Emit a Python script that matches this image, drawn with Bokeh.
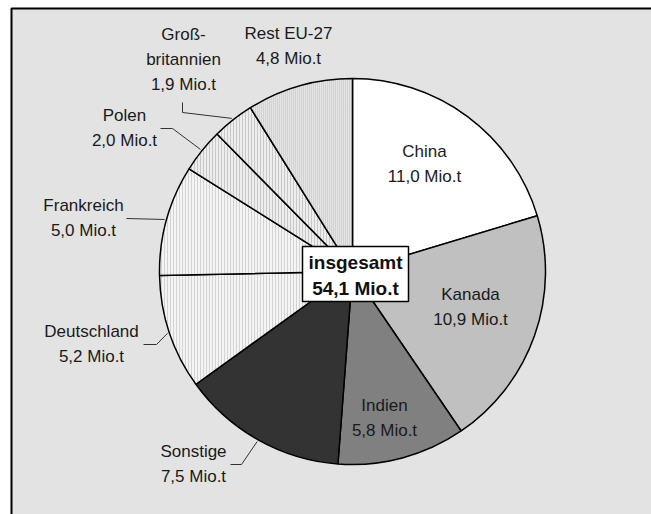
import math
from bokeh.plotting import figure
from bokeh.models import Range1d
from bokeh.core.properties import value
from bokeh.embed import file_html
from bokeh.resources import INLINE

# ---- data ----
names = ["China", "Kanada", "Indien", "Sonstige", "Deutschland", "Frankreich", "Polen", "Groß-\nbritannien", "Rest EU-27"]
values = [11.0, 10.9, 5.8, 7.5, 5.2, 5.0, 2.0, 1.9, 4.8]
unit = "Mio.t"
total_label = "insgesamt"

# ---- styles ----
fills = ["#ffffff", "#c0c0c0", "#808080", "#333333", "#f4f4f4", "#f4f4f4", "#ededed", "#ededed", "#e4e4e4"]
hatches = [None, None, None, None, "vertical_line", "vertical_line", "vertical_line", "vertical_line", "vertical_line"]
hatch_scales = [3, 3, 3, 3, 3, 3, 3, 3, 2]
hatch_colors = ["#000000"] * 4 + ["#cfcfcf", "#cfcfcf", "#c4c4c4", "#c4c4c4", "#bcbcbc"]

W, H = 651, 514
CX, CY, R = 352, 271, 193  # image coords (y down)


def fy(y):
    return H - y


def fmt(v):
    return f"{v:.1f}".replace(".", ",") + " " + unit


p = figure(width=W, height=H, output_backend="svg", toolbar_location=None,
           x_range=Range1d(0, W), y_range=Range1d(0, H), min_border=0)
p.axis.visible = False
p.grid.visible = False
p.outline_line_color = None
p.background_fill_color = "white"
p.border_fill_color = "white"

# background panel with frame
p.quad(left=[11], right=[W + 20], top=[fy(8)], bottom=[-20], fill_color="#e3e3e3",
       line_color="black", line_width=2)

total = sum(values)
cum = 0.0
starts, ends, mids = [], [], []
for v in values:
    a0 = cum / total
    cum += v
    a1 = cum / total
    starts.append(math.pi / 2 - 2 * math.pi * a0)
    ends.append(math.pi / 2 - 2 * math.pi * a1)
    mids.append((a0 + a1) / 2)

for i in range(len(values)):
    kw = dict(fill_color=fills[i], line_color="black", line_width=1.5)
    if hatches[i]:
        kw.update(hatch_pattern=hatches[i], hatch_color=hatch_colors[i], hatch_scale=hatch_scales[i],
                  hatch_weight=1, hatch_alpha=0.9)
    p.wedge(x=[CX], y=[fy(CY)], radius=R, start_angle=[starts[i]], end_angle=[ends[i]],
            direction="clock", **kw)

# label positions (image coords, centre of text block) and line spacing
label_pos = [(424, 151), (470, 294), (384, 405), (193, 451), (91, 331), (83, 205), (124, 115), (183, 34), (288, 33)]
LS = 25
xs, ys, ts = [], [], []
for i, (nm, v) in enumerate(zip(names, values)):
    lines = nm.split("\n") + [fmt(v)]
    lx, ly = label_pos[i]
    for k, t in enumerate(lines):
        xs.append(lx)
        ys.append(fy(ly + k * LS))
        ts.append(t)
p.text(x=xs, y=ys, text=ts, text_align="center", text_baseline="middle",
       text_font=value("Liberation Sans"), text_font_size="17px", text_color="#1a1a1a")

# leader lines: from label side to slice edge at its mid angle
leader_start = {3: [(230, 464), (241, 464)], 4: [(143, 344), (156, 344)], 5: [(126, 218)],
                6: [(160, 128), (172, 128)], 7: [(182, 102), (182, 112)]}
lx_all, ly_all = [], []
for i, pts in leader_start.items():
    ang = 2 * math.pi * mids[i]
    ex = CX + (R + 2) * math.sin(ang)
    ey = CY - (R + 2) * math.cos(ang)
    xx = [q[0] for q in pts] + [ex]
    yy = [fy(q[1]) for q in pts] + [fy(ey)]
    lx_all.append(xx)
    ly_all.append(yy)
p.multi_line(xs=lx_all, ys=ly_all, line_color="#333333", line_width=1)

# total box
p.quad(left=[302], right=[408], top=[fy(246)], bottom=[fy(301)], fill_color="white",
       line_color="black", line_width=1.5)
p.text(x=[355, 355], y=[fy(262), fy(288)], text=[total_label, fmt(total)],
       text_align="center", text_baseline="middle", text_font=value("Liberation Sans"),
       text_font_size="19px", text_font_style="bold", text_color="#111111")

open("out.html", "w").write(file_html(p, INLINE))
